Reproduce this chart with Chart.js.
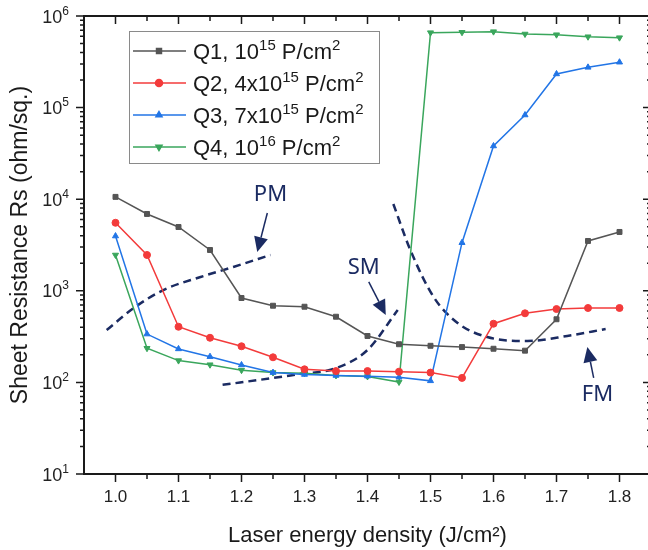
<!DOCTYPE html>
<html>
<head>
<meta charset="utf-8">
<style>
  html, body { margin: 0; padding: 0; background: #fff; overflow: hidden; }
  canvas { display: block; }
</style>
<script src="https://cdn.jsdelivr.net/npm/chart.js@4.4.1/dist/chart.umd.min.js"></script>
</head>
<body>
<canvas id="chart" width="660" height="550"></canvas>
<script>
// laser energy density (J/cm2)
const energy = [1.0, 1.05, 1.1, 1.15, 1.2, 1.25, 1.3, 1.35, 1.4, 1.45, 1.5, 1.55, 1.6, 1.65, 1.7, 1.75, 1.8];
// sheet resistance (ohm/sq.)
const q1 = [10600, 6900, 4970, 2790, 834, 687, 670, 521, 321, 261, 251, 243, 233, 222, 489, 3500, 4390];
const q2 = [5530, 2460, 405, 307, 248, 188, 139, 133, 133, 131, 128, 112, 437, 568, 632, 649, 649];
const q3 = [3960, 337, 232, 191, 155, 128, 122, 119, 117, 114, 104, 3350, 38100, 83000, 233000, 275000, 313000];
const q4 = [2460, 236, 173, 156, 136, 128, 126, 119, 116, 101, 658000, 664000, 675000, 636000, 625000, 594000, 580000];
const seriesLabels = ['Q1, 10^15 P/cm^2', 'Q2, 4x10^15 P/cm^2', 'Q3, 7x10^15 P/cm^2', 'Q4, 10^16 P/cm^2'];

const xTicks = [1.0, 1.1, 1.2, 1.3, 1.4, 1.5, 1.6, 1.7, 1.8];
const yTicks = [1e1, 1e2, 1e3, 1e4, 1e5, 1e6];

// melting regime guide curves (dashed)
const pmX = [0.986, 1.029, 1.076, 1.135, 1.187, 1.246];
const pmY = [373, 649, 1020, 1415, 1820, 2460];
const smX = [1.17, 1.251, 1.294, 1.346, 1.4, 1.448];
const smY = [94, 112, 124, 140, 226, 617];
const fmX = [1.441, 1.468, 1.505, 1.543, 1.59, 1.654, 1.717, 1.778];
const fmY = [8870, 2790, 855, 445, 313, 283, 321, 383];

// regime labels and arrows, in data units
const regimeNames = ['PM', 'SM', 'FM'];
const regimeTextAt = [[1.246, 11100], [1.394, 1775], [1.765, 72.8]];
const arrowFrom = [[1.241, 7060], [1.402, 1250], [1.759, 112]];
const arrowTo = [[1.225, 2650], [1.429, 545], [1.749, 243]];

const FONT = '"Liberation Sans", Arial, sans-serif';
const NAVY = '#1b2b62';
const colors = ['#555555', '#f33b3b', '#2275e6', '#3aa65c'];
const styles = ['rect', 'circle', 'triangle', 'triangle'];
const rotations = [0, 0, 0, 180];
const seriesValues = [q1, q2, q3, q4];

const datasets = seriesValues.map((vals, i) => ({
  label: seriesLabels[i],
  data: energy.map((x, j) => ({ x: x, y: vals[j] })),
  borderColor: colors[i],
  backgroundColor: colors[i],
  borderWidth: 1.5,
  pointStyle: styles[i],
  rotation: rotations[i],
  pointRadius: 3.5,
  pointBorderWidth: 1,
  tension: 0
}));

[[pmX, pmY], [smX, smY], [fmX, fmY]].forEach(([xs, ys]) => {
  datasets.push({
    label: '',
    data: xs.map((x, j) => ({ x: x, y: ys[j] })),
    borderColor: NAVY,
    borderWidth: 2.5,
    borderDash: [8, 5],
    pointRadius: 0,
    cubicInterpolationMode: 'monotone'
  });
});

// text with ^digits as superscripts
function richParts(str) {
  return str.split(/\^(\d+)/).map((p, i) => ({ t: p, sup: i % 2 === 1 })).filter(p => p.t);
}
function richWidth(ctx, str, size, supSize) {
  let w = 0;
  richParts(str).forEach(p => {
    ctx.font = (p.sup ? supSize : size) + 'px ' + FONT;
    w += ctx.measureText(p.t).width;
  });
  return w;
}
function drawRich(ctx, str, x, y, size, supSize, raise) {
  richParts(str).forEach(p => {
    ctx.font = (p.sup ? supSize : size) + 'px ' + FONT;
    ctx.fillText(p.t, x, p.sup ? y - raise : y);
    x += ctx.measureText(p.t).width;
  });
}

const decorations = {
  id: 'decorations',
  afterDraw(chart) {
    const { ctx, chartArea: a, scales: { x, y } } = chart;
    ctx.save();

    // frame
    ctx.strokeStyle = '#1a1a1a';
    ctx.lineWidth = 2;
    ctx.strokeRect(a.left, a.top, a.right - a.left, a.bottom - a.top);

    // x ticks: bottom outward, top inward
    ctx.lineWidth = 1.5;
    const xs = [];
    xTicks.forEach(v => {
      xs.push([v, 8]);
      xs.push([v + 0.05, 5]);
    });
    xs.forEach(([v, len]) => {
      const px = x.getPixelForValue(v);
      if (px > a.right - 1) return;
      ctx.beginPath();
      ctx.moveTo(px, a.bottom); ctx.lineTo(px, a.bottom + len);
      ctx.moveTo(px, a.top); ctx.lineTo(px, a.top + len);
      ctx.stroke();
    });

    // y ticks: left outward, right inward
    const ys = [];
    yTicks.forEach((d, i) => {
      ys.push([d, 8]);
      if (i < yTicks.length - 1) for (let m = 2; m <= 9; m++) ys.push([d * m, 4]);
    });
    ys.forEach(([v, len]) => {
      const py = y.getPixelForValue(v);
      ctx.beginPath();
      ctx.moveTo(a.left, py); ctx.lineTo(a.left - len, py);
      ctx.moveTo(a.right, py); ctx.lineTo(a.right - len, py);
      ctx.stroke();
    });

    // y tick labels 10^n
    ctx.fillStyle = '#222';
    ctx.textAlign = 'left';
    ctx.textBaseline = 'alphabetic';
    yTicks.forEach(v => {
      const lab = '10^' + Math.round(Math.log10(v));
      const w = richWidth(ctx, lab, 18, 12);
      drawRich(ctx, lab, a.left - 15 - w, y.getPixelForValue(v) + 6.5, 18, 12, 8);
    });

    // regime labels and arrows
    ctx.fillStyle = NAVY;
    ctx.strokeStyle = NAVY;
    ctx.font = '22px "Noto Sans", sans-serif';
    ctx.textAlign = 'center';
    ctx.textBaseline = 'middle';
    regimeNames.forEach((name, i) => {
      ctx.fillText(name, x.getPixelForValue(regimeTextAt[i][0]), y.getPixelForValue(regimeTextAt[i][1]));
      const x0 = x.getPixelForValue(arrowFrom[i][0]), y0 = y.getPixelForValue(arrowFrom[i][1]);
      const x1 = x.getPixelForValue(arrowTo[i][0]), y1 = y.getPixelForValue(arrowTo[i][1]);
      const ang = Math.atan2(y1 - y0, x1 - x0);
      const hl = 15, hw = 7;
      const bx = x1 - hl * Math.cos(ang), by = y1 - hl * Math.sin(ang);
      ctx.lineWidth = 1.5;
      ctx.beginPath();
      ctx.moveTo(x0, y0); ctx.lineTo(bx, by);
      ctx.stroke();
      ctx.beginPath();
      ctx.moveTo(x1, y1);
      ctx.lineTo(bx + hw * Math.sin(ang), by - hw * Math.cos(ang));
      ctx.lineTo(bx - hw * Math.sin(ang), by + hw * Math.cos(ang));
      ctx.closePath();
      ctx.fill();
    });

    // legend box
    const lx = 129, ly = 31, lw = 250, lh = 132;
    ctx.fillStyle = '#fff';
    ctx.fillRect(lx, ly, lw, lh);
    ctx.strokeStyle = '#8a8a8a';
    ctx.lineWidth = 1;
    ctx.strokeRect(lx + 0.5, ly + 0.5, lw, lh);
    ctx.textAlign = 'left';
    ctx.textBaseline = 'alphabetic';
    seriesLabels.forEach((lab, i) => {
      const ry = 51 + i * 32;
      ctx.strokeStyle = colors[i];
      ctx.fillStyle = colors[i];
      ctx.lineWidth = 1.5;
      ctx.beginPath();
      ctx.moveTo(lx + 4, ry); ctx.lineTo(lx + 57, ry);
      ctx.stroke();
      Chart.helpers.drawPoint(ctx, { pointStyle: styles[i], rotation: rotations[i], radius: 3.5, borderWidth: 1 }, lx + 30, ry);
      ctx.fillStyle = '#1a1a1a';
      drawRich(ctx, lab, lx + 64, ry + 8, 22, 15, 9);
    });

    ctx.restore();
  }
};

new Chart(document.getElementById('chart'), {
  type: 'line',
  data: { datasets: datasets },
  options: {
    responsive: false,
    animation: false,
    layout: { padding: { top: 16, right: 9, left: 0, bottom: 0 } },
    plugins: { legend: { display: false }, tooltip: { enabled: false } },
    scales: {
      x: {
        type: 'linear',
        min: 0.95,
        max: 1.85,
        grid: { display: false, drawTicks: false },
        border: { display: false },
        afterBuildTicks: s => { s.ticks = xTicks.map(v => ({ value: v })); },
        afterFit: s => { s.height = 76; },
        ticks: { padding: 13, color: '#222', font: { size: 17, family: FONT }, callback: v => Number(v).toFixed(1) },
        title: { display: true, text: 'Laser energy density (J/cm\u00b2)', color: '#1a1a1a', font: { size: 22, family: FONT }, padding: { top: 0, bottom: 1 } }
      },
      y: {
        type: 'logarithmic',
        min: 10,
        max: 1e6,
        grid: { display: false, drawTicks: false },
        border: { display: false },
        afterBuildTicks: s => { s.ticks = yTicks.map(v => ({ value: v })); },
        afterFit: s => { s.width = 84; },
        ticks: { display: false },
        title: { display: true, text: 'Sheet Resistance Rs (ohm/sq.)', color: '#1a1a1a', font: { size: 23, family: FONT }, padding: { top: 7, bottom: 0 } }
      }
    }
  },
  plugins: [decorations]
});
</script>
</body>
</html>
